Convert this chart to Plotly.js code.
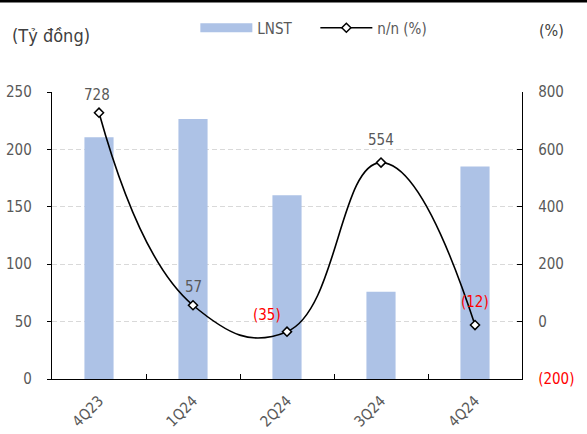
<!DOCTYPE html>
<html><head><meta charset="utf-8">
<script src="https://cdn.plot.ly/plotly-3.0.1.min.js"></script>
<style>html,body{margin:0;padding:0;background:#fff;}#c{width:587px;height:434px;}</style>
</head><body><div id="c"></div>
<script>
const categories = ["4Q23", "1Q24", "2Q24", "3Q24", "4Q24"];
const lnst = [210.5, 226.5, 160, 76, 185];
const yoy = [728, 57, -35, 554, -12];
const leftTicks = [0, 50, 100, 150, 200, 250];
const rightTicks = [-200, 0, 200, 400, 600, 800];

const fmt = v => v < 0 ? "(" + Math.abs(v) + ")" : String(v);
const FONT = "Tahoma, 'DejaVu Sans Condensed', 'Liberation Sans', Arial, sans-serif";
const GRAY = "#595959", RED = "#ff0000", BARC = "#adc2e6";
// label offsets (pixels) for the n/n data labels
const labelShift = [[-2, 18], [0, 18], [-20, 17], [0, 23], [0, 23]];

const traces = [
  {type: "bar", name: "LNST", x: categories, y: lnst, marker: {color: BARC},
   hoverinfo: "skip", showlegend: false},
  {type: "scatter", mode: "lines", name: "LNST", x: [null], y: [null],
   line: {color: BARC, width: 9}, hoverinfo: "skip"},
  {type: "scatter", mode: "lines+markers", name: "n/n (%)", x: categories, y: yoy,
   yaxis: "y2", line: {color: "#000", width: 1.6, shape: "spline", smoothing: 1.3},
   marker: {symbol: "diamond", size: 7, color: "#fff", line: {color: "#000", width: 1.5}},
   cliponaxis: false, hoverinfo: "skip"}
];

const labelAnns = yoy.map((v, i) => ({
  text: fmt(v), x: categories[i], y: v, xref: "x", yref: "y2", showarrow: false,
  xshift: labelShift[i][0], yshift: labelShift[i][1], xanchor: "center", yanchor: "middle",
  font: {family: FONT, size: 15, color: v < 0 ? RED : GRAY}
}));

const layout = {
  width: 587, height: 434,
  margin: {l: 52, r: 65, t: 92, b: 55},
  paper_bgcolor: "#fff", plot_bgcolor: "#fff",
  font: {family: FONT, size: 15, color: GRAY},
  bargap: 0.69,
  showlegend: true,
  legend: {orientation: "h", x: 0.305, xanchor: "left", y: 1.223, yanchor: "middle",
           font: {family: FONT, size: 15, color: GRAY}, itemwidth: 52, entrywidth: 53,
           entrywidthmode: "pixels", traceorder: "normal"},
  xaxis: {type: "category", showline: true, linecolor: "#000", linewidth: 1.2,
          ticks: "inside", tickson: "boundaries", ticklen: 5, tickcolor: "#000",
          tickangle: -45, tickfont: {size: 15, color: GRAY}, showgrid: false, fixedrange: true,
          ticklabelstandoff: 6},
  yaxis: {range: [0, 250], tickvals: leftTicks, showline: true, linecolor: "#000", linewidth: 1.2,
          ticks: "outside", ticklen: 4, tickcolor: "#000", gridcolor: "#d9d9d9", griddash: "5px,3px",
          zeroline: false, tickfont: {size: 15, color: GRAY}, ticklabelstandoff: 12},
  yaxis2: {range: [-200, 800], overlaying: "y", side: "right", tickvals: rightTicks,
           ticktext: rightTicks.map(v => v < 0 ? '<span style="color:#ff0000">' + fmt(v) + '</span>' : fmt(v)),
           showline: true, linecolor: "#000", linewidth: 1.2, ticks: "inside", ticklen: 5,
           tickcolor: "#000", showgrid: false, zeroline: false, tickfont: {size: 15, color: GRAY},
           ticklabelstandoff: 12},
  annotations: [
    {text: "(Tỷ đồng)", xref: "paper", yref: "paper", x: -0.089, y: 1.197, xanchor: "left", yanchor: "middle",
     showarrow: false, font: {family: FONT, size: 18, color: "#404040"}},
    {text: "(%)", xref: "paper", yref: "paper", x: 1.032, y: 1.213, xanchor: "left", yanchor: "middle",
     showarrow: false, font: {family: FONT, size: 16, color: "#404040"}}
  ].concat(labelAnns),
  shapes: [
    {type: "line", xref: "paper", yref: "paper", x0: -0.2, x1: 1.2, y0: 1.317, y1: 1.317,
     line: {color: "#000", width: 3}}
  ]
};
Plotly.newPlot("c", traces, layout, {staticPlot: true});
</script></body></html>
